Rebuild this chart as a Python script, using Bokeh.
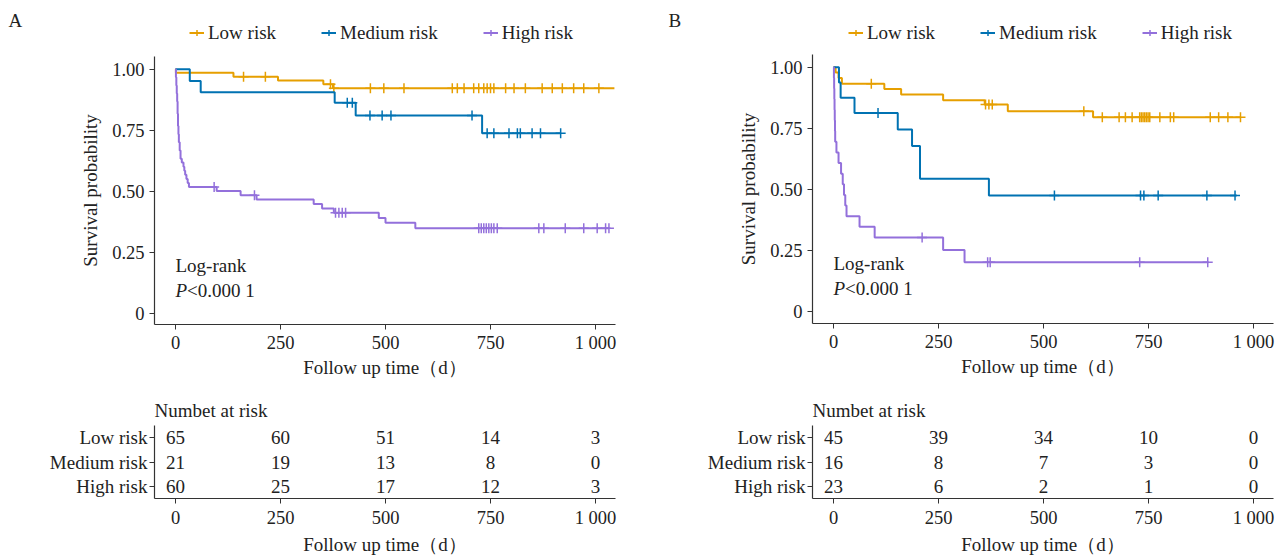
import numpy as np
from bokeh.plotting import figure
from bokeh.models import Range1d, FixedTicker, Legend, LegendItem, Label
from bokeh.layouts import row, column
from bokeh.embed import file_html
from bokeh.resources import INLINE
from bokeh.core.properties import value

FONT = "Liberation Serif"
TXT = "#222222"
FS = "19px"
groups = ["Low risk", "Medium risk", "High risk"]
colors = ["#E69F00", "#0072B2", "#9370DB"]

# ---------------- Panel A data (event times, survival after event, censor times, last follow-up)
a_low_t = [1, 138, 244, 352, 375]
a_low_s = [0.985, 0.969, 0.954, 0.938, 0.922]
a_low_c = [162, 214, 369, 377, 464, 496, 544, 659, 671, 687, 710, 722, 734, 742, 750, 758,
           786, 806, 833, 873, 897, 921, 948, 972, 1008]
a_low_end = 1045

a_med_t = [34, 60, 379, 429, 730]
a_med_s = [0.952, 0.905, 0.862, 0.810, 0.737]
a_med_c = [409, 421, 463, 492, 513, 706, 742, 758, 794, 814, 821, 849, 869, 917]
a_med_end = 917

a_high_t = [1, 2, 3, 4, 5, 6, 7, 8, 10, 12, 15, 19, 21, 23, 26, 29, 32,
            98, 155, 193, 329, 349, 377, 484, 500, 571]
a_high_s = [0.967, 0.933, 0.900, 0.867, 0.817, 0.767, 0.733, 0.700, 0.667, 0.633, 0.617,
            0.600, 0.583, 0.567, 0.550, 0.533, 0.517,
            0.500, 0.483, 0.466, 0.447, 0.429, 0.411, 0.390, 0.370, 0.348]
a_high_c = [92, 188, 381, 389, 397, 405, 722, 728, 734, 740, 746, 752, 758, 766,
            865, 877, 928, 972, 1004, 1024, 1032]
a_high_end = 1032

# ---------------- Panel B data
b_low_t = [5, 12, 20, 121, 161, 261, 360, 415, 618]
b_low_s = [0.978, 0.956, 0.933, 0.911, 0.889, 0.865, 0.848, 0.820, 0.796]
b_low_c = [90, 362, 370, 378, 596, 640, 680, 695, 711, 729, 733, 737, 741, 745, 749, 753,
           777, 802, 810, 897, 917, 939, 969]
b_low_end = 969

b_med_t = [13, 17, 50, 153, 187, 206, 370]
b_med_s = [0.9375, 0.875, 0.8125, 0.746, 0.678, 0.544, 0.476]
b_med_c = [106, 526, 731, 739, 773, 889, 956]
b_med_end = 960

b_high_t = [1, 1.5, 2, 2.5, 3, 3.5, 4, 7, 12, 18, 22, 25, 28, 31, 62, 98, 261, 312]
b_high_s = [0.957, 0.913, 0.870, 0.826, 0.783, 0.739, 0.696, 0.652, 0.609, 0.565, 0.522,
            0.478, 0.435, 0.391, 0.348, 0.304, 0.253, 0.203]
b_high_c = [211, 367, 373, 729, 891]
b_high_end = 893

# ---------------- Number at risk
risk_times = [0, 250, 500, 750, 1000]
a_risk_low = [65, 60, 51, 14, 3]
a_risk_med = [21, 19, 13, 8, 0]
a_risk_high = [60, 25, 17, 12, 3]
b_risk_low = [45, 39, 34, 10, 0]
b_risk_med = [16, 8, 7, 3, 0]
b_risk_high = [23, 6, 2, 1, 0]

x_ticks = [0, 250, 500, 750, 1000]
x_tick_labels = ["0", "250", "500", "750", "1 000"]
y_ticks = [0, 0.25, 0.5, 0.75, 1.0]
y_tick_labels = ["0", "0.25", "0.50", "0.75", "1.00"]
x_title = "Follow up time（d）"
y_title = "Survival probability"


def style_axes(p):
    for ax in p.axis:
        ax.axis_line_color = "#333333"
        ax.axis_line_width = 1.2
        ax.major_tick_line_color = "#333333"
        ax.major_tick_in = 0
        ax.major_tick_out = 5
        ax.minor_tick_line_color = None
        ax.major_label_text_font = FONT
        ax.major_label_text_font_size = "18.5px"
        ax.major_label_text_color = TXT
        ax.axis_label_text_font = FONT
        ax.axis_label_text_font_size = FS
        ax.axis_label_text_font_style = "normal"
        ax.axis_label_text_color = TXT
    p.xgrid.visible = False
    p.ygrid.visible = False
    p.outline_line_color = None


def header(letter, h, letter_x, leg_x):
    """Top strip with the panel letter and the legend."""
    p = figure(width=643, height=h, output_backend="svg", toolbar_location=None,
               x_axis_type=None, y_axis_type=None, x_range=Range1d(0, 643), y_range=Range1d(0, h),
               min_border=0, min_border_left=0, min_border_right=0, min_border_top=0,
               min_border_bottom=0, frame_align=False)
    p.xgrid.visible = False
    p.ygrid.visible = False
    p.outline_line_color = None
    items = []
    nan = [float("nan")]
    for name, col in zip(groups, colors):
        lr = p.line(x=nan, y=nan, line_color=col, line_width=2)
        sr = p.scatter(x=nan, y=nan, marker="cross", size=9, line_color=col, line_width=1.5)
        items.append(LegendItem(label=name, renderers=[lr, sr]))
    leg = Legend(items=items, orientation="horizontal", location=(leg_x, h - 43.5),
                 border_line_color=None, background_fill_alpha=0, padding=0, margin=0,
                 spacing=45, label_standoff=4, glyph_width=15, glyph_height=19,
                 label_height=19, label_text_font=FONT, label_text_font_size=FS,
                 label_text_color=TXT)
    p.add_layout(leg, "center")
    p.add_layout(Label(x=letter_x, y=h - 20, x_units="screen", y_units="screen", text=letter,
                       text_font=FONT, text_font_size=FS, text_color=TXT,
                       text_baseline="middle"))
    return p


def km_panel(series, h, left, right, bottom, lr_y, p_y):
    p = figure(width=643, height=h, output_backend="svg", toolbar_location=None,
               x_range=Range1d(-50, 1047.6), y_range=Range1d(-0.047, 1.052),
               min_border_left=left, min_border_right=right,
               min_border_top=0, min_border_bottom=bottom, frame_align=False)
    for (name, col, ev_t, ev_s, cens, end) in series:
        xs = [0] + list(ev_t) + [end]
        ys = [1.0] + list(ev_s) + [ev_s[-1]]
        p.step(xs, ys, mode="after", line_color=col, line_width=2)
        idx = np.searchsorted(np.array(ev_t, dtype=float), np.array(cens, dtype=float), side="right") - 1
        cy = [1.0 if i < 0 else ev_s[i] for i in idx]
        p.scatter(cens, cy, marker="cross", size=10, line_color=col, line_width=1.5)
    p.xaxis.ticker = FixedTicker(ticks=x_ticks)
    p.xaxis.major_label_overrides = dict(zip(x_ticks, x_tick_labels))
    p.yaxis.ticker = FixedTicker(ticks=y_ticks)
    p.yaxis.major_label_overrides = dict(zip(y_ticks, y_tick_labels))
    p.xaxis.axis_label = x_title
    p.yaxis.axis_label = y_title
    style_axes(p)
    p.xaxis.major_label_standoff = 3
    p.xaxis.axis_label_standoff = 1
    p.yaxis.axis_label_standoff = 8
    p.add_layout(Label(x=0, y=lr_y, text="Log-rank", text_font=FONT, text_font_size=FS,
                       text_color=TXT, text_baseline="middle"))
    p.add_layout(Label(x=0, y=p_y, text="P", text_font=FONT, text_font_size=FS,
                       text_font_style="italic", text_color=TXT, text_baseline="middle"))
    p.add_layout(Label(x=0, y=p_y, x_offset=11.5, text="<0.000 1", text_font=FONT,
                       text_font_size=FS, text_color=TXT, text_baseline="middle"))
    return p


def risk_panel(rows, left, right):
    p = figure(width=643, height=172, output_backend="svg", toolbar_location=None,
               x_range=Range1d(-50, 1047.6), y_range=Range1d(0.52, 3.48),
               min_border_left=left, min_border_right=right,
               min_border_top=40, min_border_bottom=58, title="Numbet at risk",
               frame_align=False)
    yvals = [3, 2, 1]
    for yv, counts in zip(yvals, rows):
        p.text(x=risk_times, y=[yv] * len(risk_times), text=[str(c) for c in counts],
               text_align="center", text_baseline="middle", text_font=value(FONT),
               text_font_size=FS, text_color=TXT)
    p.xaxis.ticker = FixedTicker(ticks=x_ticks)
    p.xaxis.major_label_overrides = dict(zip(x_ticks, x_tick_labels))
    p.yaxis.ticker = FixedTicker(ticks=yvals)
    p.yaxis.major_label_overrides = dict(zip(yvals, groups))
    p.xaxis.axis_label = x_title
    style_axes(p)
    p.yaxis.major_label_text_font_size = FS
    p.yaxis.major_label_standoff = 2
    p.xaxis.major_label_standoff = 4
    p.xaxis.axis_label_standoff = 3
    p.title.text_font = FONT
    p.title.text_font_size = FS
    p.title.text_font_style = "normal"
    p.title.text_color = TXT
    p.title.align = "left"
    return p


seriesA = [(groups[0], colors[0], a_low_t, a_low_s, a_low_c, a_low_end),
           (groups[1], colors[1], a_med_t, a_med_s, a_med_c, a_med_end),
           (groups[2], colors[2], a_high_t, a_high_s, a_high_c, a_high_end)]
seriesB = [(groups[0], colors[0], b_low_t, b_low_s, b_low_c, b_low_end),
           (groups[1], colors[1], b_med_t, b_med_s, b_med_c, b_med_end),
           (groups[2], colors[2], b_high_t, b_high_s, b_high_c, b_high_end)]

hdrA = header("A", 56, 8, 189)
hdrB = header("B", 54, 25, 205)
kmA = km_panel(seriesA, 329, 154, 28, 61, 0.195, 0.093)
kmB = km_panel(seriesB, 331, 169, 13, 62, 0.2, 0.094)
tabA = risk_panel([a_risk_low, a_risk_med, a_risk_high], 154, 28)
tabB = risk_panel([b_risk_low, b_risk_med, b_risk_high], 169, 13)

layout = row(column(hdrA, kmA, tabA), column(hdrB, kmB, tabB))
open("out.html", "w").write(file_html(layout, INLINE))
